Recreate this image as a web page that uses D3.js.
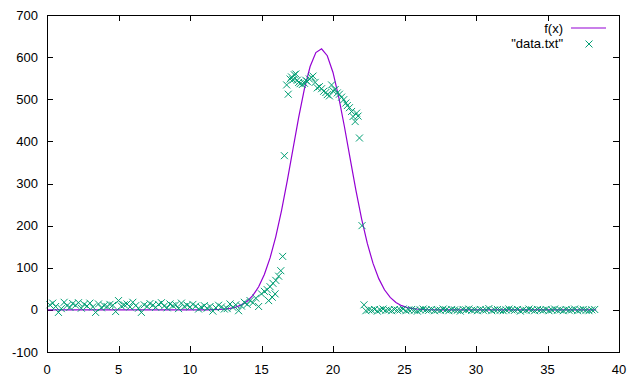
<!DOCTYPE html>
<html>
<head>
<meta charset="utf-8">
<script src="https://cdn.jsdelivr.net/npm/d3@7"></script>
<style>
  html, body { margin: 0; padding: 0; background: #fff; }
  svg { display: block; }
  text { font-family: "Liberation Sans", Arial, sans-serif; font-size: 13px; fill: #000; }
</style>
</head>
<body>
<svg id="chart" width="640" height="384"></svg>
<script>
// ---- data ----
const xTicks = [0, 5, 10, 15, 20, 25, 30, 35, 40];
const yTicks = [-100, 0, 100, 200, 300, 400, 500, 600, 700];

// fitted function f(x) = a * exp(-(x-mu)^2 / (2 sigma^2))
const fA = 620, fMu = 19.14, fSigma = 1.97;
const fSampleX = d3.range(0, 38.41, 0.4);

// data.txt points
const dataX = [
  0.2,0.4,0.6,0.8,1.0,1.2,1.4,1.6,1.8,2.0,2.2,2.4,2.6,2.8,3.0,3.2,3.4,3.6,3.8,4.0,
  4.2,4.4,4.6,4.8,5.0,5.2,5.4,5.6,5.8,6.0,6.2,6.4,6.6,6.8,7.0,7.2,7.4,7.6,7.8,8.0,
  8.2,8.4,8.6,8.8,9.0,9.2,9.4,9.6,9.8,10.0,10.2,10.4,10.6,10.8,11.0,11.2,11.4,11.6,11.8,12.0,
  12.2,12.4,
  12.6,12.8,13.0,13.2,13.4,13.6,13.8,14.0,14.2,14.4,14.6,14.8,15.0,15.2,15.4,15.6,15.8,16.0,16.2,16.35,
  16.48,15.5,15.75,15.95,
  16.6,16.76,16.87,17.0,17.1,17.2,17.3,17.4,17.5,17.6,17.7,17.85,18.0,18.1,18.2,18.35,18.5,18.6,18.75,18.9,
  19.05,19.2,19.35,19.5,19.6,19.75,19.9,20.0,20.15,20.3,20.45,20.6,20.75,20.9,21.0,21.15,21.3,21.4,21.55,21.65,
  21.75,21.85,22.03,22.17,
  22.3,22.5,22.7,22.9,23.1,23.3,23.5,23.7,23.9,24.1,24.3,24.5,24.7,24.9,25.1,25.3,25.5,25.7,25.9,26.1,
  26.3,26.5,26.7,26.9,27.1,27.3,27.5,27.7,27.9,28.1,28.3,28.5,28.7,28.9,29.1,29.3,29.5,29.7,29.9,30.1,
  30.3,30.5,30.7,30.9,31.1,31.3,31.5,31.7,31.9,32.1,32.3,32.5,32.7,32.9,33.1,33.3,33.5,33.7,33.9,34.1,
  34.3,34.5,34.7,34.9,35.1,35.3,35.5,35.7,35.9,36.1,36.3,36.5,36.7,36.9,37.1,37.3,37.5,37.7,37.9,38.1,
  38.3
];
const dataY = [
  12,16,8,-6,3,18,10,6,15,11,17,4,13,9,16,7,-6,14,5,10,
  8,13,11,-4,22,9,12,14,7,18,10,4,-6,12,8,15,11,6,13,17,
  9,5,14,10,12,3,16,8,11,7,13,9,2,6,10,4,8,-3,5,11,
  7,2,
  3,14,6,12,-2,9,18,13,22,17,28,8,38,44,48,55,63,70,80,93,
  127,22,30,38,
  366,534,512,548,553,546,558,560,545,540,537,535,538,545,542,548,552,555,540,527,
  530,525,519,516,511,508,534,520,523,515,512,505,499,491,485,480,471,459,447,467,
  460,408,200,12,
  -2,0,-1,1,-3,0,2,-1,0,-2,1,-1,0,2,-2,0,1,-1,-3,0,
  2,0,-1,1,-2,0,-1,2,0,-2,1,0,-1,-3,1,0,2,-1,0,-2,
  1,-1,0,3,-2,0,1,-1,-2,0,2,0,-1,1,-3,0,-1,2,0,-2,
  1,0,-1,1,-2,0,2,-1,0,-2,1,-1,0,2,-2,0,1,-1,-2,0,
  1
];

const seriesNames = ["f(x)", "\"data.txt\""];
const lineColor = "#9400d3";
const pointColor = "#009e73";

// ---- chart ----
const svg = d3.select("#chart");
const pLeft = 47, pRight = 619, pTop = 15, pBottom = 352;

const x = d3.scaleLinear().domain([0, 40]).range([pLeft, pRight]);
const y = d3.scaleLinear().domain([-100, 700]).range([pBottom, pTop]);

// ticks (inward, mirrored)
const tickG = svg.append("g").attr("stroke", "#000").attr("stroke-width", 1).attr("shape-rendering", "crispEdges");
xTicks.forEach(t => {
  const px = Math.round(x(t)) + 0.5;
  tickG.append("line").attr("x1", px).attr("x2", px).attr("y1", pBottom).attr("y2", pBottom - 6);
  tickG.append("line").attr("x1", px).attr("x2", px).attr("y1", pTop).attr("y2", pTop + 6);
});
yTicks.forEach(t => {
  const py = Math.round(y(t)) + 0.5;
  tickG.append("line").attr("x1", pLeft).attr("x2", pLeft + 6).attr("y1", py).attr("y2", py);
  tickG.append("line").attr("x1", pRight).attr("x2", pRight - 6).attr("y1", py).attr("y2", py);
});

// tick labels
svg.append("g").selectAll("text").data(xTicks).join("text")
  .attr("x", d => x(d)).attr("y", 374).attr("text-anchor", "middle").text(d => d);
svg.append("g").selectAll("text").data(yTicks).join("text")
  .attr("x", 38).attr("y", d => y(d) + 4.5).attr("text-anchor", "end").text(d => d);

// f(x) line
const line = d3.line().x(d => x(d)).y(d => y(fA * Math.exp(-((d - fMu) ** 2) / (2 * fSigma * fSigma))));
svg.append("path").datum(fSampleX).attr("d", line)
  .attr("fill", "none").attr("stroke", lineColor).attr("stroke-width", 1.2);

// data points as crosses
const s = 3.5;
const cross = (cx, cy) => `M${cx - s},${cy - s}L${cx + s},${cy + s}M${cx - s},${cy + s}L${cx + s},${cy - s}`;
const pts = d3.zip(dataX, dataY);
svg.append("g").selectAll("path").data(pts).join("path")
  .attr("d", d => cross(x(d[0]), y(d[1])))
  .attr("stroke", pointColor).attr("stroke-width", 1).attr("fill", "none");

// frame
svg.append("rect").attr("x", pLeft + 0.5).attr("y", pTop + 0.5)
  .attr("width", pRight - pLeft).attr("height", pBottom - pTop)
  .attr("fill", "none").attr("stroke", "#000").attr("stroke-width", 1).attr("shape-rendering", "crispEdges");

// legend
const leg = svg.append("g");
leg.append("text").attr("x", 563).attr("y", 33).attr("text-anchor", "end").text(seriesNames[0]);
leg.append("line").attr("x1", 571).attr("x2", 606).attr("y1", 28).attr("y2", 28)
  .attr("stroke", lineColor).attr("stroke-width", 1.2);
leg.append("text").attr("x", 563).attr("y", 48).attr("text-anchor", "end").text(seriesNames[1]);
leg.append("path").attr("d", cross(589, 44)).attr("stroke", pointColor).attr("stroke-width", 1).attr("fill", "none");
</script>
</body>
</html>
